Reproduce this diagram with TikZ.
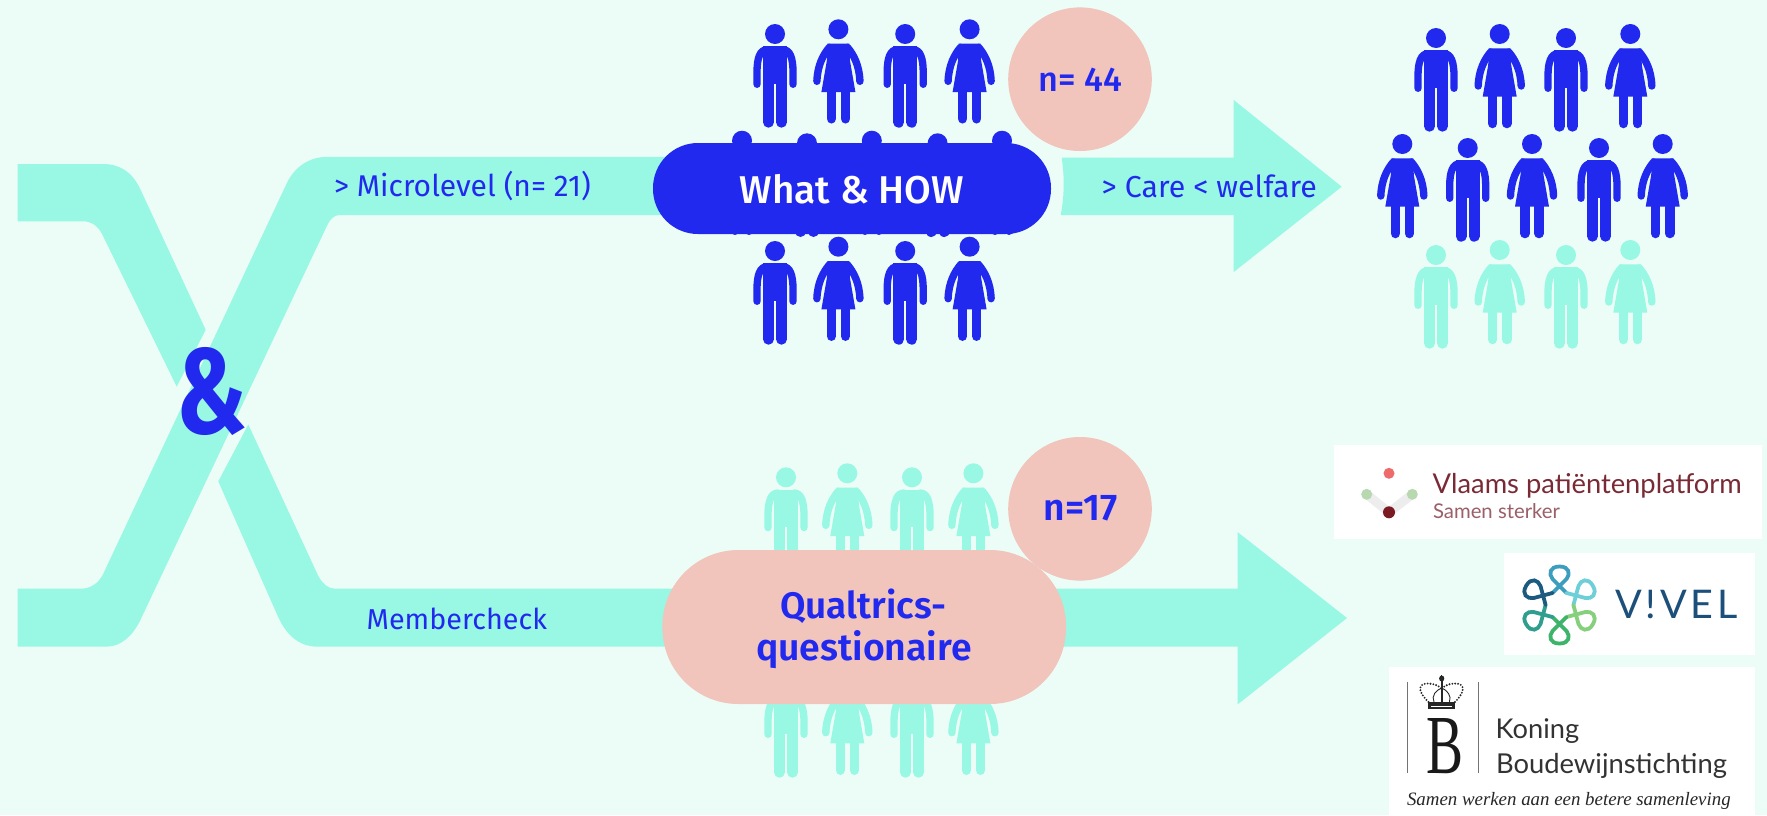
\documentclass[tikz,border=0pt]{standalone}
\usepackage{graphicx}
\usepackage{fontspec}
\setmainfont{Fira Sans}
\newfontfamily\medf{Fira Sans Medium}
\newfontfamily\semf{Fira Sans SemiBold}
\newfontfamily\logof{Lato}
\newfontfamily\serf{Liberation Serif}
\definecolor{bgc}{HTML}{ECFDF7}
\definecolor{aqua}{HTML}{98F8E4}
\definecolor{blu}{HTML}{2229EE}
\definecolor{pinkc}{HTML}{F1C4BC}
\definecolor{vpred}{HTML}{7A2A35}
\definecolor{vivb}{HTML}{1C4F7A}
\definecolor{dotred}{HTML}{EE6B6B}
\definecolor{dotgreen}{HTML}{B8D8B0}
\definecolor{dotdark}{HTML}{7A1A22}
\newcommand\fitw[2]{\resizebox{#1pt}{!}{#2}}
\newcommand\manfig[3]{\begin{scope}[shift={(#1,#2)},line cap=round]
\fill[#3] (0,0) circle (10);
\fill[#3] (-12,12.2) rectangle (12,50);
\draw[#3,line width=11] (-6.5,45) -- (-6.5,88.2) (6.5,45) -- (6.5,88.2);
\draw[#3,line width=7.3] (-8,15.7) .. controls (-15,15.7) and (-18,24) .. (-18,38) -- (-18,50.3);
\draw[#3,line width=7.3] (8,15.7) .. controls (15,15.7) and (18,24) .. (18,38) -- (18,50.3);
\end{scope}}
\newcommand\womanfig[3]{\begin{scope}[shift={(#1,#2)},line cap=round]
\fill[#3] (0,0) circle (10);
\fill[#3] (-11,14.3) -- (11,14.3) -- (11.5,31) -- (17,62.7) -- (-17,62.7) -- (-11.5,31) -- cycle;
\draw[#3,line width=9.5] (-7.05,60) -- (-7.05,89.5) (7.05,60) -- (7.05,89.5);
\draw[#3,line width=7.4] (-9,18) .. controls (-15,25) and (-21,36) .. (-21.5,52);
\draw[#3,line width=7.4] (9,18) .. controls (15,25) and (21,36) .. (21.5,52);
\end{scope}}
\tikzset{lab/.style={inner sep=0pt,outer sep=0pt,anchor=base west,blu},
 pill/.style={rounded corners=#1},
 logobox/.style={fill=white,draw=none},
 beads/.style={line width=2.1,line cap=round,dash pattern=on 0pt off 2.9pt}}
\begin{document}
\begin{tikzpicture}[x=1pt,y=-1pt]
\useasboundingbox (0,0) rectangle (1767,815);
\fill[bgc] (0,0) rectangle (1767,815);
% bands
\fill[aqua] (17.5,164) -- (103,164) .. controls (120,164) and (132,172) .. (140,188.5) -- (205.7,329.8) -- (176.7,386.6) -- (101.7,233.3) .. controls (97,225) and (91,221.3) .. (83,221.3) -- (17.5,221.3) -- cycle;
\fill[aqua] (17.5,588.7) -- (80,588.7) .. controls (90,588.7) and (98,584) .. (103,574.3) -- (286.7,183.4) .. controls (295,166) and (310,156.9) .. (327,156.9) -- (680,156.9) -- (680,215) -- (340,215) .. controls (334,215) and (330,219) .. (326.7,226.4) -- (140,620.8) .. controls (132,637) and (120,646.6) .. (107,646.6) -- (17.5,646.6) -- cycle;
\fill[aqua] (248.3,424.5) -- (318.3,576) .. controls (323,584) and (328,588.7) .. (335,588.7) -- (700,588.7) -- (700,646.6) -- (317,646.6) .. controls (300,646.6) and (287,636) .. (278.3,617.3) -- (218.3,481.3) -- cycle;
% arrows
\fill[aqua] (1061.7,157.7) .. controls (1064.5,176) and (1064.5,196) .. (1060.7,215) -- (1233.7,215) -- (1233.7,272) -- (1341.7,186.7) -- (1233.7,100) -- (1233.7,157.7) -- cycle;
\fill[aqua] (1040,588.7) -- (1237.5,588.7) -- (1237.5,532) -- (1347,618) -- (1237.5,704.5) -- (1237.5,646.6) -- (1040,646.6) -- cycle;
% people top
\manfig{775}{34}{blu}\womanfig{838.4}{29.3}{blu}\manfig{905.2}{34}{blu}\womanfig{969.6}{29.3}{blu}
\womanfig{742}{140.7}{blu}\manfig{807}{143.3}{blu}\womanfig{871.8}{140.7}{blu}\manfig{937.6}{143.3}{blu}\womanfig{1002}{140.7}{blu}
\manfig{775}{251}{blu}\womanfig{838.4}{246.7}{blu}\manfig{905.2}{251}{blu}\womanfig{969.6}{246.7}{blu}
% people bottom
\manfig{786}{477.3}{aqua}\womanfig{847.3}{473.3}{aqua}\manfig{912}{477.3}{aqua}\womanfig{973.4}{473.3}{aqua}
\manfig{786}{684}{aqua}\womanfig{847.3}{680.7}{aqua}\manfig{912}{684}{aqua}\womanfig{973.4}{680.7}{aqua}
% people right
\manfig{1436}{38}{blu}\womanfig{1499.7}{34}{blu}\manfig{1566}{38}{blu}\womanfig{1630.3}{34}{blu}
\womanfig{1402.3}{144}{blu}\manfig{1467.7}{148}{blu}\womanfig{1532}{144}{blu}\manfig{1599}{148}{blu}\womanfig{1662.7}{144}{blu}
\manfig{1436}{255}{aqua}\womanfig{1499.7}{250}{aqua}\manfig{1566}{255}{aqua}\womanfig{1630.3}{250}{aqua}
% pills and circles
\fill[blu,pill=45] (653,143) rectangle (1051,234);
\fill[pinkc] (1080,508.8) circle (71.8);
\fill[pinkc,pill=76] (662.4,550) rectangle (1066,704);
\fill[pinkc] (1080,79.2) circle (71.8);
% main text
\node[lab,white] (what) at (739.9,203) {\fitw{224}{\medf What \& HOW}};
\node[lab] (n44) at (1038.5,91.7) {\fitw{83.5}{\medf n= 44}};
\node[lab] (n17) at (1043.6,520.7) {\fitw{74}{\semf n=17}};
\node[lab] (qual) at (780.2,618.3) {\fitw{166.3}{\semf Qualtrics-}};
\node[lab] (ques) at (756,660.7) {\fitw{215.7}{\semf questionaire}};
\node[lab] (micro) at (334,196) {\fitw{256.7}{> Microlevel (n= 21)}};
\node[lab] (care) at (1101.7,197) {\fitw{215}{> Care < welfare}};
\node[lab] (memb) at (366.7,629) {\fitw{180.3}{Membercheck}};
\node[lab] (amp) at (176.7,433) {\resizebox{70.6pt}{86pt}{\bfseries \&}};
% logo 1
\fill[logobox] (1334,445) rectangle (1762,539);
\draw[black!7,line width=9] (1366.7,494.3) -- (1389,512.3) -- (1412.3,494.3);
\fill[dotred] (1389,473.3) circle (5.5);
\fill[dotgreen] (1366.7,494.3) circle (5.5) (1412.3,494.3) circle (5.5);
\fill[dotdark] (1389,512.3) circle (6);
\node[lab,vpred] (vlaams) at (1432.7,493) {\fitw{309}{\logof Vlaams patiëntenplatform}};
\node[lab,vpred!75] (samen) at (1433,518) {\fitw{127}{\logof Samen sterker}};
% logo 2
\fill[logobox] (1504,553) rectangle (1755,655);
\begin{scope}[shift={(1559.5,605)},line width=3.8,line cap=round]
\foreach \a/\c in {90/3C9DBE,30/6FCFD8,-30/86CF7C,-90/3DB46A,-150/2F9E8F,150/1C5A80}{
 \definecolor{cc}{HTML}{\c}
 \draw[rotate=\a,cc] (12,-7) .. controls (18,-1) and (22,3) .. (26,7) .. controls (31,11) and (38.5,10) .. (38.5,0) .. controls (38.5,-10) and (31,-11) .. (26,-7) .. controls (22,-3) and (18,1) .. (12,7);
}
\end{scope}
\node[lab,vivb] (vivel) at (1615,618) {\fitw{123}{\logof\addfontfeature{LetterSpace=10}V!VEL}};
% logo 3
\fill[logobox] (1389,667) rectangle (1755,815);
\draw[black!55,line width=1] (1407.3,681.7) -- (1407.3,773) (1478.7,681.7) -- (1478.7,773);
\node[lab,black!90] (bee) at (1426.5,773.3) {\resizebox{37pt}{55pt}{\serf B}};
\begin{scope}[black!85]
\fill (1428,703.3) rectangle (1455.4,709.3);
\fill[white] (1431,705.5) rectangle (1452.4,707);
\draw[line width=1.2] (1428.5,702.5) -- (1455,702.5);
\draw[beads] (1428.5,702) .. controls (1417,691) and (1418,683.5) .. (1428,683.5) .. controls (1433,683.5) and (1438,685) .. (1441.7,689);
\draw[beads] (1455,702) .. controls (1466,691) and (1465,683.5) .. (1455,683.5) .. controls (1450,683.5) and (1445,685) .. (1441.7,689);
\draw[line width=.9] (1434,702) .. controls (1431,696) and (1436,690) .. (1441.7,688) .. controls (1447,690) and (1452,696) .. (1449.4,702);
\draw[line width=1.8] (1441.7,680) -- (1441.7,702);
\fill (1441.7,678.5) ellipse (2.6 and 3);
\draw[line width=1.1] (1441.7,675) -- (1441.7,681);
\end{scope}
\node[lab,black!80] (koning) at (1495.7,738) {\fitw{83.5}{\logof Koning}};
\node[lab,black!80] (boud) at (1496,773) {\fitw{231}{\logof Boudewijnstichting}};
\node[lab,black!85] (tag) at (1407,805) {\fitw{323.7}{\serf\itshape Samen werken aan een betere samenleving}};
\end{tikzpicture}
\end{document}
